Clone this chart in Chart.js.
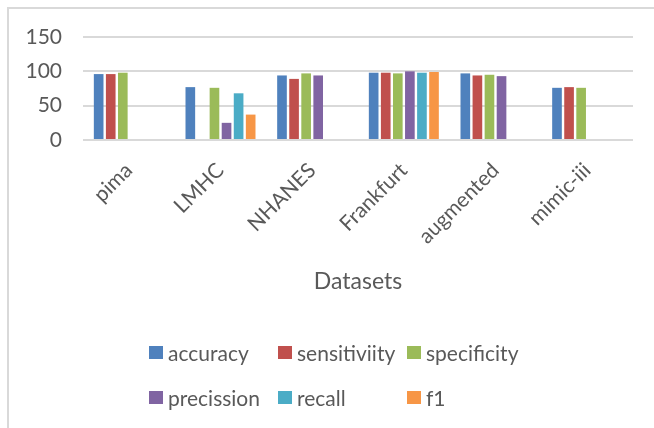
<!DOCTYPE html>
<html>
<head>
<meta charset="utf-8">
<script src="https://cdn.jsdelivr.net/npm/chart.js@4.4.0/dist/chart.umd.min.js"></script>
<style>
  body { margin: 0; background: #fff; }
  #wrap { position: relative; width: 654px; height: 428px; overflow: hidden; }
  #frame { position: absolute; left: 7px; top: 7px; width: 700px; height: 500px; border: 2px solid #d9d9d9; }
  canvas { position: absolute; left: 0; top: 0; }
  #legend { position: absolute; left: 149px; top: 336px; display: grid; grid-template-columns: 129px 129px 129px; row-gap: 13px;
            font-family: Lato, sans-serif; font-size: 21px; color: #595959; }
  #legend div { display: flex; align-items: center; height: 32px; white-space: nowrap; }
  #legend span.box { display: inline-block; width: 14px; height: 13px; margin-right: 5px; }
</style>
</head>
<body>
<div id="wrap">
  <div id="frame"></div>
  <canvas id="chart" width="654" height="428"></canvas>
  <div id="legend"></div>
</div>
<script>
const datasetNames = ['pima', 'LMHC', 'NHANES', 'Frankfurt', 'augmented', 'mimic-iii'];
const accuracy = [96, 77, 94, 98, 97, 76];
const sensitivity = [96, null, 89, 98, 94, 77];
const specificity = [98, 76, 97, 97, 95, 76];
const precission = [null, 25, 94, 100, 93, null];
const recall = [null, 68, null, 98, null, null];
const f1 = [null, 37, null, 99, null, null];
const yTicks = [0, 50, 100, 150];

const seriesLabels = ['accuracy', 'sensitiviity', 'specificity', 'precission', 'recall', 'f1'];
const seriesValues = [accuracy, sensitivity, specificity, precission, recall, f1];
const seriesColors = ['#4f81bd', '#c0504d', '#9bbb59', '#8064a2', '#4bacc6', '#f79646'];

const textColor = '#595959';
const gridColor = '#d9d9d9';

const ctx = document.getElementById('chart').getContext('2d');

const datasets = seriesLabels.map((label, i) => ({
    label: label,
    data: seriesValues[i],
    backgroundColor: seriesColors[i],
    categoryPercentage: 0.79,
    barPercentage: 0.8
}));

new Chart(ctx, {
    type: 'bar',
    data: { labels: datasetNames, datasets: datasets },
    options: {
        responsive: false,
        animation: false,
        layout: { padding: { left: 0, right: 21, top: 37, bottom: 120 } },
        plugins: {
            legend: { display: false },
            tooltip: { enabled: false }
        },
        scales: {
            x: {
                grid: { display: false },
                border: { display: false },
                ticks: {
                    color: textColor,
                    font: { family: 'Lato', size: 21 },
                    maxRotation: 45,
                    minRotation: 45,
                    padding: 10
                },
                title: {
                    display: true,
                    text: 'Datasets',
                    color: textColor,
                    font: { family: 'Lato', size: 23 },
                    padding: { top: 0, bottom: 13 }
                },
                afterFit: scale => { scale.height = 168; }
            },
            y: {
                min: 0,
                max: 150,
                afterBuildTicks: scale => { scale.ticks = yTicks.map(v => ({ value: v })); },
                grid: { color: gridColor, lineWidth: 2, drawTicks: false },
                border: { display: false },
                ticks: {
                    color: textColor,
                    font: { family: 'Lato', size: 21 },
                    padding: 21
                },
                afterFit: scale => { scale.width = 83; }
            }
        }
    }
});

// legend laid out in three columns like the original
const legend = document.getElementById('legend');
seriesLabels.forEach((label, i) => {
    const item = document.createElement('div');
    const box = document.createElement('span');
    box.className = 'box';
    box.style.background = seriesColors[i];
    item.appendChild(box);
    item.appendChild(document.createTextNode(label));
    legend.appendChild(item);
});
</script>
</body>
</html>
